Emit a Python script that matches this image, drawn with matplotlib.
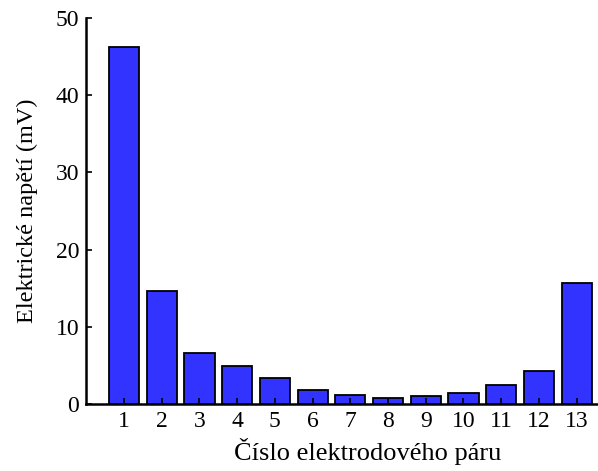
import matplotlib.pyplot as plt

plt.rcParams['font.family'] = ['Liberation Serif', 'DejaVu Serif']

# Measured voltage per electrode pair
pairs = list(range(1, 14))
voltage_mv = [46.2, 14.6, 6.7, 4.9, 3.4, 1.8, 1.2, 0.85, 1.1, 1.4, 2.5, 4.3, 15.7]

fig = plt.figure(figsize=(5.98, 4.71), dpi=100)
ax = fig.add_axes([0.1443, 0.1416, 0.883, 0.8206])

ax.bar(pairs, voltage_mv, width=0.8, color='#3333ff', edgecolor='black', linewidth=1.3)

ax.set_xlim(0, 14)
ax.set_ylim(0, 50)
ax.set_xticks(pairs)
ax.set_yticks([0, 10, 20, 30, 40, 50])

ax.spines['top'].set_visible(False)
ax.spines['right'].set_visible(False)
ax.spines['left'].set_linewidth(1.8)
ax.spines['bottom'].set_linewidth(1.8)
ax.tick_params(direction='in', length=4, width=1.2, labelsize=17, pad=5)

ax.set_xlabel('Číslo elektrodového páru', fontsize=19)
ax.xaxis.set_label_coords(0.532, -0.088)
ax.set_ylabel('Elektrické napětí (mV)', fontsize=17.5, labelpad=13)

fig.savefig('out.png', dpi=100)
